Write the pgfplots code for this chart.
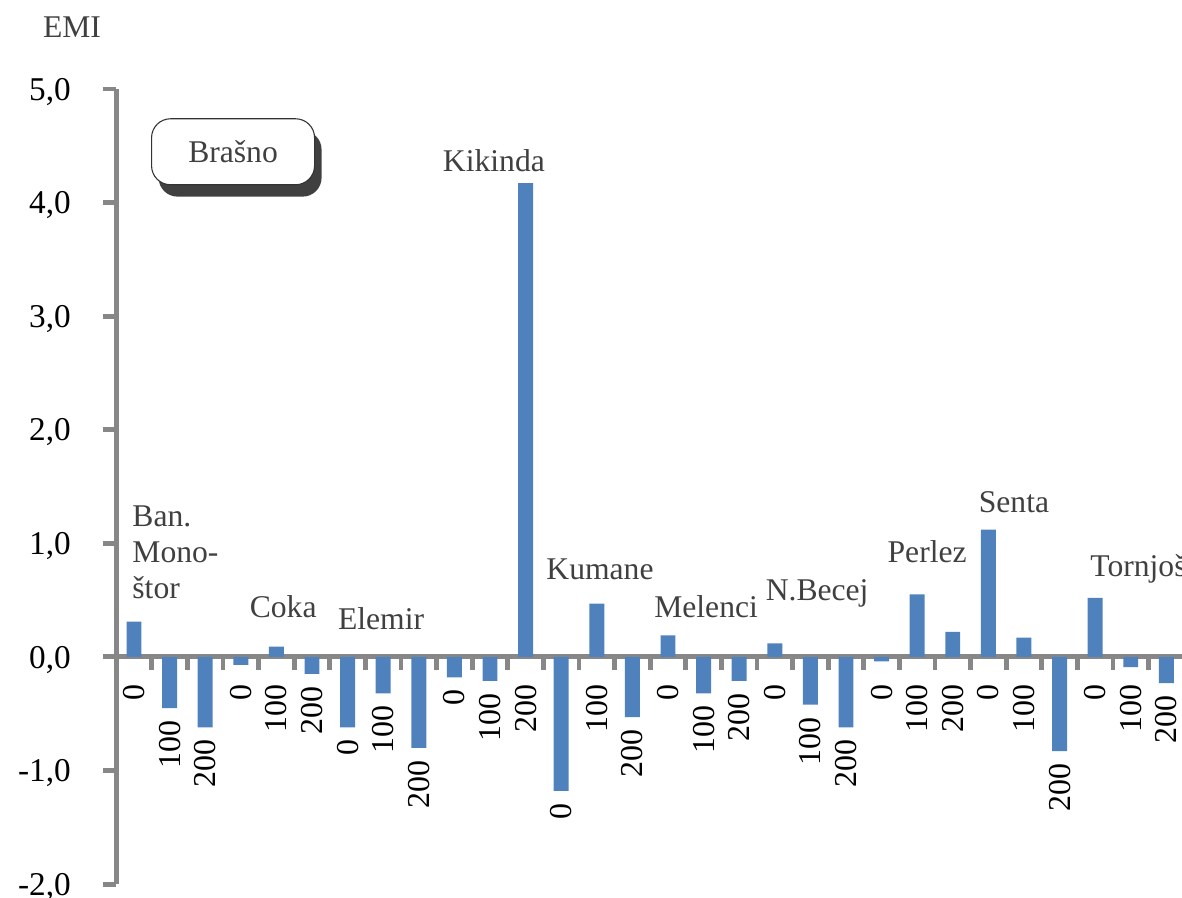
\documentclass[border=0pt]{standalone}
\usepackage{fontspec}
\setmainfont{Liberation Serif}
\usepackage{pgfplots}
\usepackage{pgfplotstable}
\pgfplotsset{compat=1.18}
\definecolor{barblue}{HTML}{4F81BD}
\definecolor{axgray}{HTML}{878787}
\definecolor{txtgray}{HTML}{404040}

% EMI values, 10 locations x 3 doses (0, 100, 200)
\pgfplotstableread{
x v
0 0.31
1 -0.45
2 -0.62
3 -0.07
4 0.09
5 -0.15
6 -0.62
7 -0.32
8 -0.80
9 -0.18
10 -0.21
11 4.17
12 -1.18
13 0.47
14 -0.53
15 0.19
16 -0.32
17 -0.21
18 0.12
19 -0.42
20 -0.62
21 -0.04
22 0.55
23 0.22
24 1.12
25 0.17
26 -0.83
27 0.52
28 -0.09
29 -0.23
}\bars

% dose labels, hung just below each bar (or below the axis)
\pgfplotstableread{
x y lab
0 -0.236 0
1 -0.556 100
2 -0.726 200
3 -0.236 0
4 -0.236 100
5 -0.256 200
6 -0.726 0
7 -0.426 100
8 -0.906 200
9 -0.286 0
10 -0.316 100
11 -0.236 200
12 -1.286 0
13 -0.236 100
14 -0.636 200
15 -0.236 0
16 -0.426 100
17 -0.316 200
18 -0.236 0
19 -0.526 100
20 -0.726 200
21 -0.236 0
22 -0.236 100
23 -0.236 200
24 -0.236 0
25 -0.236 100
26 -0.936 200
27 -0.236 0
28 -0.236 100
29 -0.336 200
}\labs

\begin{document}
\begin{tikzpicture}
\begin{axis}[
    at={(0pt,0pt)}, anchor=south west,
    scale only axis, width=395.1pt, height=294.2pt,
    xmin=-0.5, xmax=29.5, ymin=-2, ymax=5,
    axis x line*=middle, axis y line*=left,
    axis line style={draw=axgray, line width=1.9pt},
    ytick={-2,-1,0,1,2,3,4,5},
    yticklabels={{-2,0},{-1,0},{0,0},{1,0},{2,0},{3,0},{4,0},{5,0}},
    xtick={0.5,1.5,...,28.5}, xticklabels={},
    tick style={draw=axgray, line width=1.8pt},
    major tick length=4.8pt, tick align=outside,
    yticklabel style={font=\fontsize{12.3}{14}\selectfont, xshift=-8.5pt, yshift=-1pt},
    clip=false,
]
\addplot[ybar, bar width=0.42, fill=barblue, draw=none] table[x=x,y=v] {\bars};
\addplot[draw=none, mark=none, nodes near coords, point meta=explicit symbolic,
    every node near coord/.style={rotate=90, anchor=east, inner sep=0pt,
        font=\fontsize{11.8}{13}\selectfont, text=black}]
    table[x=x,y=y,meta=lab] {\labs};

\begin{scope}[every node/.style={text=txtgray, font=\fontsize{11.7}{13}\selectfont}]
\node[anchor=north west, inner sep=0pt, align=left, font=\fontsize{11.7}{13.3}\selectfont]
    at (axis cs:-0.06,1.338) {Ban.\\Mono-\\štor};
\node[anchor=base] at (axis cs:4.19,0.343) {Coka};
\node[anchor=base] at (axis cs:6.94,0.238) {Elemir};
\node[anchor=base] at (axis cs:10.11,4.27) {Kikinda};
\node[anchor=base] at (axis cs:13.09,0.678) {Kumane};
\node[anchor=base] at (axis cs:16.07,0.343) {Melenci};
\node[anchor=base] at (axis cs:19.19,0.493) {N.Becej};
\node[anchor=base] at (axis cs:22.28,0.827) {Perlez};
\node[anchor=base] at (axis cs:24.72,1.268) {Senta};
\node[anchor=base west, inner sep=0pt] at (axis cs:26.85,0.704) {Tornjoš};
\node at (axis description cs:-0.0414,1.078) {EMI};
\node[fill=txtgray, rounded corners=7pt, minimum width=60.3pt, minimum height=24.4pt,
    xshift=2.6pt, yshift=-4.4pt] at (axis description cs:0.1094,0.921) {};
\node[draw=black!80, line width=0.4pt, fill=white, rounded corners=7pt,
    minimum width=60.3pt, minimum height=24.4pt] at (axis description cs:0.1094,0.921) {Brašno};
\end{scope}
\end{axis}
\pgfresetboundingbox
\useasboundingbox (-43.0pt,-4.81pt) rectangle (394.3pt,327.1pt);
\end{tikzpicture}
\end{document}
